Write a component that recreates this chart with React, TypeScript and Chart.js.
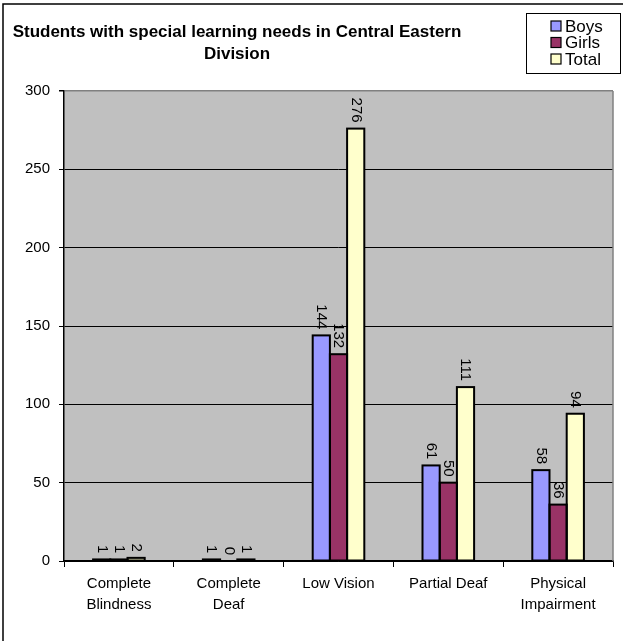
import React, { useEffect, useRef } from "react";
import { Chart, registerables } from "chart.js";

Chart.register(...registerables);

const titleLines = ["Students with special learning needs in Central Eastern", "Division"];
const categories: (string | string[])[] = [
  ["Complete", "Blindness"],
  ["Complete", "Deaf"],
  "Low Vision",
  "Partial Deaf",
  ["Physical", "Impairment"],
];
const seriesNames = ["Boys", "Girls", "Total"];
const boys = [1, 1, 144, 61, 58];
const girls = [1, 0, 132, 50, 36];
const total = [2, 1, 276, 111, 94];
const seriesColors = ["#9999FF", "#993366", "#FFFFCC"];
const yMin = 0;
const yMax = 300;
const yStep = 50;

const FONT = "'Liberation Sans', Arial, Helvetica, sans-serif";

const decorPlugin = {
  id: "decor",
  beforeDraw(chart: any) {
    const { ctx, chartArea: a } = chart;
    ctx.save();
    ctx.fillStyle = "#FFFFFF";
    ctx.fillRect(0, 0, chart.width, chart.height);
    ctx.fillStyle = "#C0C0C0";
    ctx.fillRect(a.left, a.top, a.right - a.left, a.bottom - a.top);
    ctx.restore();
  },
  beforeDatasetsDraw(chart: any) {
    const { ctx, chartArea: a } = chart;
    ctx.save();
    ctx.strokeStyle = "#808080";
    ctx.lineWidth = 1.5;
    ctx.beginPath();
    ctx.moveTo(a.right, a.top);
    ctx.lineTo(a.right, a.bottom);
    ctx.stroke();
    ctx.restore();
  },
  afterDatasetsDraw(chart: any) {
    const { ctx } = chart;
    ctx.save();
    // centered bar outlines (Excel style)
    ctx.strokeStyle = "#000";
    ctx.lineWidth = 2;
    chart.data.datasets.forEach((ds: any, di: number) => {
      const meta = chart.getDatasetMeta(di);
      meta.data.forEach((el: any, i: number) => {
        if (ds.data[i] === 0) return;
        const p = el.getProps(["x", "y", "base", "width"], true);
        ctx.strokeRect(p.x - p.width / 2, p.y, p.width, p.base - p.y);
      });
    });
    ctx.font = `15px ${FONT}`;
    ctx.fillStyle = "#000";
    ctx.textAlign = "right";
    ctx.textBaseline = "middle";
    chart.data.datasets.forEach((ds: any, di: number) => {
      const meta = chart.getDatasetMeta(di);
      meta.data.forEach((el: any, i: number) => {
        ctx.save();
        ctx.translate(el.x, el.y - 6);
        ctx.rotate(Math.PI / 2);
        ctx.fillText(String(ds.data[i]), 0, 0);
        ctx.restore();
      });
    });
    ctx.restore();
  },
  afterDraw(chart: any) {
    const { ctx } = chart;
    ctx.save();
    ctx.strokeStyle = "#000";
    ctx.lineWidth = 1.5;
    ctx.beginPath();
    ctx.moveTo(3, chart.height);
    ctx.lineTo(3, 4);
    ctx.lineTo(chart.width, 4);
    ctx.stroke();
    ctx.font = `bold 17px ${FONT}`;
    ctx.fillStyle = "#000";
    ctx.textAlign = "center";
    ctx.textBaseline = "middle";
    ctx.fillText(titleLines[0], 237, 32);
    ctx.fillText(titleLines[1], 237, 54);
    const bx = 526, by = 13, bw = 94, bh = 60;
    ctx.fillStyle = "#FFFFFF";
    ctx.fillRect(bx, by, bw, bh);
    ctx.strokeStyle = "#000";
    ctx.lineWidth = 1;
    ctx.strokeRect(bx + 0.5, by + 0.5, bw, bh);
    ctx.font = `17px ${FONT}`;
    ctx.textAlign = "left";
    seriesNames.forEach((name, i) => {
      const cy = 26 + i * 16.5;
      ctx.fillStyle = seriesColors[i];
      ctx.fillRect(551, cy - 5, 10, 10);
      ctx.strokeStyle = "#000";
      ctx.lineWidth = 1.2;
      ctx.strokeRect(551, cy - 5, 10, 10);
      ctx.fillStyle = "#000";
      ctx.fillText(name, 565, cy + 1);
    });
    ctx.restore();
  },
};

export default function App() {
  const ref = useRef<HTMLCanvasElement | null>(null);
  useEffect(() => {
    if (!ref.current) return;
    const series = [boys, girls, total];
    const chart = new Chart(ref.current, {
      type: "bar",
      data: {
        labels: categories as any,
        datasets: seriesNames.map((n, i) => ({
          label: n,
          data: series[i],
          backgroundColor: seriesColors[i],
          borderWidth: 0,
          barPercentage: 1,
          categoryPercentage: 0.47,
        })),
      },
      options: {
        animation: false,
        responsive: false,
        devicePixelRatio: 1,
        layout: { padding: { top: 91, right: 10, left: 0, bottom: 0 } },
        plugins: {
          legend: { display: false },
          title: { display: false },
          tooltip: { enabled: false },
        },
        scales: {
          x: {
            offset: true,
            afterFit: (s: any) => {
              s.height = 80;
            },
            grid: {
              offset: true,
              drawOnChartArea: false,
              drawTicks: true,
              tickLength: 6,
              color: "#000",
              tickColor: "#000",
            },
            border: { color: "#000", width: 1.5 },
            ticks: {
              color: "#000",
              font: { family: FONT, size: 15, lineHeight: 1.35 },
              padding: 7,
              autoSkip: false,
              maxRotation: 0,
              minRotation: 0,
            },
          },
          y: {
            min: yMin,
            max: yMax,
            afterFit: (s: any) => {
              s.width = 64;
            },
            grid: {
              color: (c: any) => (c.tick && c.tick.value === yMax ? "#808080" : "#000"),
              lineWidth: (c: any) => (c.tick && c.tick.value === yMax ? 1.5 : 1),
              tickColor: "#000",
              tickLength: 5,
            },
            border: { color: "#000", width: 1.5 },
            ticks: {
              stepSize: yStep,
              color: "#000",
              font: { family: FONT, size: 15 },
              padding: 9,
            },
          },
        },
      },
      plugins: [decorPlugin],
    });
    return () => chart.destroy();
  }, []);
  return (
    <div style={{ position: "fixed", left: 0, top: 0, width: 623, height: 641, background: "#fff" }}>
      <canvas ref={ref} width={623} height={641} style={{ display: "block", width: 623, height: 641 }} />
    </div>
  );
}
